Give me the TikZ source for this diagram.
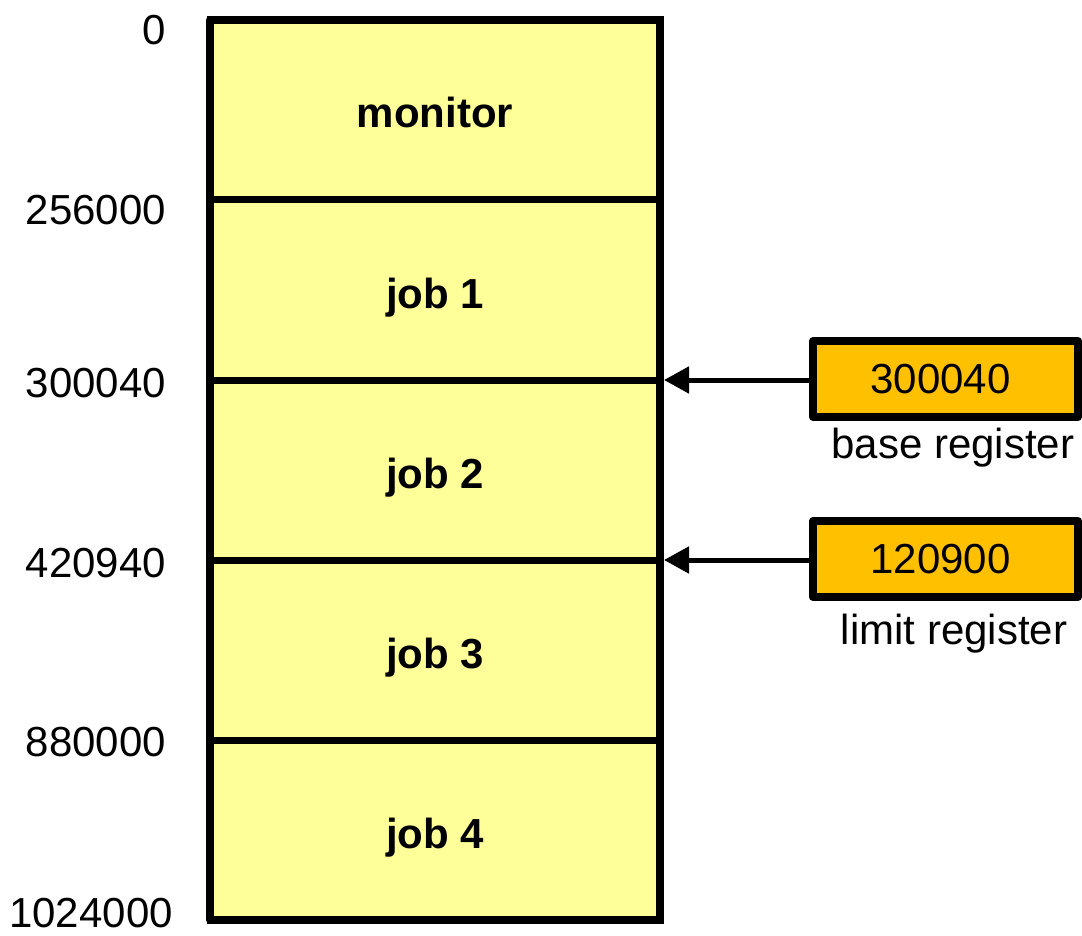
\documentclass[tikz,border=0pt]{standalone}
\usepackage{fontspec}
\setmainfont{Liberation Sans}
\usetikzlibrary{arrows.meta}
\definecolor{memfill}{HTML}{FFFF99}
\definecolor{regfill}{HTML}{FFC000}
\tikzset{
  memsec/.style={draw=black, fill=memfill, line width=7pt, minimum width=450pt,
    minimum height=180pt, inner sep=0pt, outer sep=0pt, text height=40pt, text depth=4pt,
    font=\fontsize{42}{50}\selectfont\bfseries},
  regbox/.style={draw=black, fill=regfill, line width=8pt, minimum width=265pt,
    minimum height=76pt, inner sep=0pt, line join=round, font=\fontsize{42}{50}\selectfont},
  addr/.style={anchor=east, inner sep=0pt, font=\fontsize{42}{50}\selectfont},
  reglabel/.style={inner sep=0pt, font=\fontsize{42}{50}\selectfont},
  arr/.style={line width=5pt, -{Triangle[length=25pt,width=26pt]}}
}
\begin{document}
\begin{tikzpicture}[x=1pt,y=-1pt]
\useasboundingbox (0,0) rectangle (1082,936);
\node[memsec] (s1) at (435,110) {monitor};
\node[memsec] (s2) at (435,290) {job 1};
\node[memsec] (s3) at (435,470) {job 2};
\node[memsec] (s4) at (435,650) {job 3};
\node[memsec] (s5) at (435,830) {job 4};
\draw[line width=8pt, line join=round] (s1.north west) rectangle (s5.south east);
\node[addr] (a0) at (166,30) {0};
\node[addr] (a1) at (166,210) {256000};
\node[addr] (a2) at (166,383) {300040};
\node[addr] (a3) at (166,563) {420940};
\node[addr] (a4) at (166,742) {880000};
\node[addr] (a5) at (173,913) {1024000};
\node[regbox] (base) at (945.5,379) {300040\hspace*{10pt}};
\node[reglabel] (bl) at (953,448) {base register};
\node[regbox] (limit) at (945.5,559) {120900\hspace*{10pt}};
\node[reglabel] (ll) at (954,634) {limit register};
\coordinate (t1) at ([xshift=4pt]s3.north east);
\coordinate (t2) at ([xshift=4pt]s4.north east);
\draw[arr] (base.west |- t1) -- (t1);
\draw[arr] (limit.west |- t2) -- (t2);
\end{tikzpicture}
\end{document}
